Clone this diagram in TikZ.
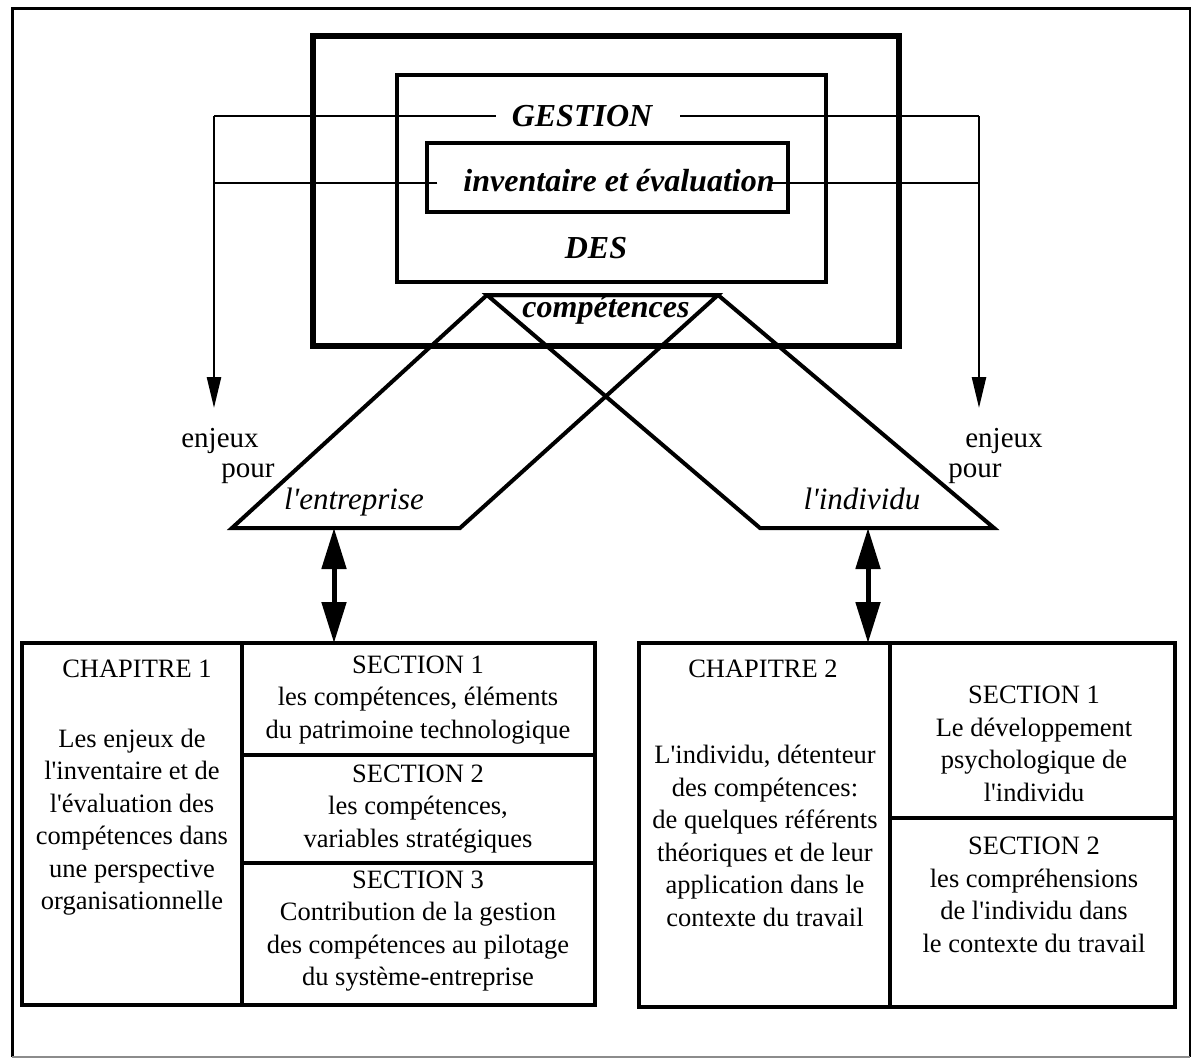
\documentclass[tikz,border=0pt]{standalone}
\usepackage{fontspec}
\newfontfamily\lsfont{Liberation Serif}
\usetikzlibrary{arrows.meta}

\begin{document}
\begin{tikzpicture}[x=1pt,y=-1pt,
  bodytext/.style={font=\lsfont\fontsize{26.5}{32.5}\selectfont, align=center, inner sep=0},
  enjtext/.style={font=\lsfont\fontsize{29}{34}\selectfont, inner sep=0, anchor=base},
  bitext/.style={font=\lsfont\bfseries\itshape\fontsize{32}{38}\selectfont, inner sep=0, anchor=base},
  ittext/.style={font=\lsfont\itshape\fontsize{31}{36}\selectfont, inner sep=0, anchor=base},
  box/.style={draw, outer sep=0, inner sep=0, anchor=north west},
  conn/.style={line width=2.5, line cap=butt},
  thinarrow/.style={conn, -{Triangle[length=31pt,width=14pt]}},
  dblarrow/.style={line width=5, {Triangle[length=41pt,width=24pt]}-{Triangle[length=41pt,width=24pt]}},
  trapline/.style={line width=4, line join=miter},
  secline/.style={line width=4}]

\useasboundingbox (0,0) rectangle (1191,1058);

% page frame
\draw[line width=3] (12,1057) -- (12,8) -- (1190,8) -- (1190,1057);
\draw[line width=1.5, black!45] (12,1057) -- (1190,1057);

% nested boxes of the title block
\node[box, line width=6, minimum width=586, minimum height=310] (outer) at (313,36) {};
\node[box, line width=3.5, minimum width=429, minimum height=207] (mid) at (397,75) {};
\node[box, line width=3.5, minimum width=361, minimum height=69] (inner) at (427,143) {};

% title words
\node[bitext] (gestion) at (582,126.5) {GESTION};
\node[bitext] (inv) at (619,191) {inventaire et évaluation};
\node[bitext] (des) at (596,258) {DES};

% the two crossing parallelograms
\coordinate (tl) at (487,295);
\coordinate (tr) at (718,295);
\coordinate (eA) at (232,528);
\coordinate (eB) at (460,528);
\coordinate (iA) at (760,528);
\coordinate (iB) at (994,528);
\draw[trapline] (tl) -- (tr) -- (eB) -- (eA) -- cycle;
\draw[trapline] (tl) -- (tr) -- (iB) -- (iA) -- cycle;
\node[bitext] (comp) at (606,317) {compétences};
\node[ittext] (entr) at (354,509) {l'entreprise};
\node[ittext] (indiv) at (862,509) {l'individu};

% branches leading to the stakes
\coordinate (gL) at (214,116);
\coordinate (gR) at (979,116);
\coordinate (vL) at (214,183);
\coordinate (vR) at (979,183);
\coordinate (tipL) at (214,408);
\coordinate (tipR) at (979,408);
\draw[conn] ([xshift=-16pt]gestion.west |- gL) -- (gL);
\draw[conn] ([xshift=28pt]gestion.east |- gR) -- (gR);
\draw[conn] ([xshift=-26pt]inv.west |- vL) -- (vL);
\draw[conn] ([xshift=-5pt]inv.east |- vR) -- (vR);
\draw[thinarrow] (gL) -- (tipL);
\draw[thinarrow] (gR) -- (tipR);

\node[enjtext] (enjL) at (220,447) {enjeux};
\node[enjtext] (pourL) at (248,477) {pour};
\node[enjtext] (enjR) at (1004,447) {enjeux};
\node[enjtext] (pourR) at (975,477) {pour};

% chapter 1 table
\node[box, line width=4, minimum width=573, minimum height=362] (ch1) at (22,643) {};
\draw[secline] (242,643) -- (242,1005);
\draw[secline] (242,755) -- (595,755);
\draw[secline] (242,863) -- (595,863);

\node[bodytext, anchor=base] (c1t) at (137,677) {CHAPITRE 1};
\node[bodytext] (c1b) at (132,822) {Les enjeux de\\l'inventaire et de\\l'évaluation des\\compétences dans\\une perspective\\organisationnelle};
\node[bodytext] (s11) at (418,700) {SECTION 1\\les compétences, éléments\\du patrimoine technologique};
\node[bodytext] (s12) at (418,809) {SECTION 2\\les compétences,\\variables stratégiques};
\node[bodytext] (s13) at (418,931) {SECTION 3\\Contribution de la gestion\\des compétences au pilotage\\du système-entreprise};

% chapter 2 table
\node[box, line width=4, minimum width=536, minimum height=364] (ch2) at (639,643) {};
\draw[secline] (890,643) -- (890,1007);
\draw[secline] (890,818) -- (1175,818);

\node[bodytext, anchor=base] (c2t) at (763,677) {CHAPITRE 2};
\node[bodytext] (c2b) at (765,836) {L'individu, détenteur\\des compétences:\\de quelques référents\\théoriques et de leur\\application dans le\\contexte du travail};
\node[bodytext] (s21) at (1034,744) {SECTION 1\\Le développement\\psychologique de\\l'individu};
\node[bodytext] (s22) at (1034,895) {SECTION 2\\les compréhensions\\de l'individu dans\\le contexte du travail};

% links between the stakes and the chapters
\coordinate (eM) at (334,528);
\coordinate (iM) at (868,528);
\draw[dblarrow] (eM) -- (eM |- ch1.north);
\draw[dblarrow] (iM) -- (iM |- ch2.north);

\end{tikzpicture}
\end{document}
